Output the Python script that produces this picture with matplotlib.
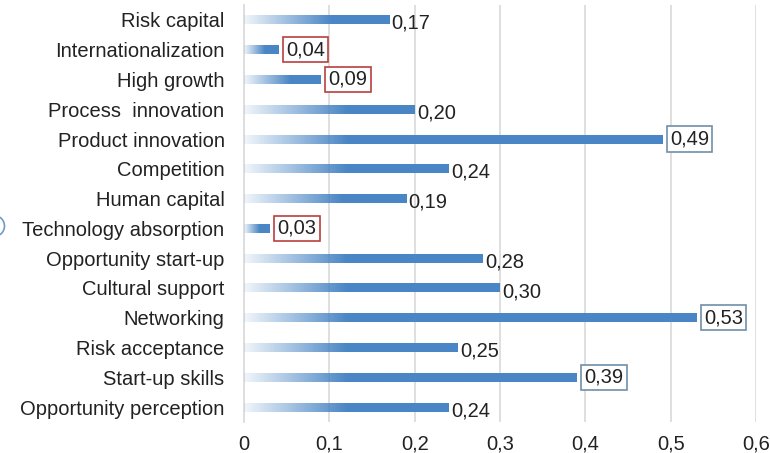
import numpy as np
import matplotlib
matplotlib.use("Agg")
import matplotlib.pyplot as plt
from matplotlib.colors import to_rgb
from matplotlib.patches import Circle

# dados (de cima para baixo)
categorias = [
    "Risk capital", "Internationalization", "High growth", "Process  innovation",
    "Product innovation", "Competition", "Human capital", "Technology absorption",
    "Opportunity start-up", "Cultural support", "Networking", "Risk acceptance",
    "Start-up skills", "Opportunity perception",
]
valores = [0.17, 0.04, 0.09, 0.20, 0.49, 0.24, 0.19, 0.03, 0.28, 0.30, 0.53, 0.25, 0.39, 0.24]
# destaque: 'r' = caixa vermelha, 'b' = caixa azul, '' = sem caixa
destaque = ['', 'r', 'r', '', 'b', '', '', 'r', '', '', 'b', '', 'b', '']
xticks = [0, 0.1, 0.2, 0.3, 0.4, 0.5, 0.6]
xticklabels = ["0", "0,1", "0,2", "0,3", "0,4", "0,5", "0,6"]

plt.rcParams['font.family'] = ['Liberation Sans', 'DejaVu Sans']

cor_barra = to_rgb("#4a86c5")
cor_box = {'r': "#b8403f", 'b': "#6f8fa8"}
fs = 14.5

fig = plt.figure(figsize=(7.7, 4.53), dpi=100)
ax = fig.add_axes([244 / 770, 1 - 422 / 453, 512 / 770, 417 / 453])

n = len(categorias)
h = 0.3
for i, (v, d) in enumerate(zip(valores, destaque)):
    # barra com gradiente branco -> azul
    npx = 200
    x = np.linspace(0, v, npx)
    g = min(0.12, v * 0.6)
    alpha = np.clip(0.08 + 0.92 * x / g, 0, 1)
    img = np.zeros((1, npx, 4))
    img[0, :, :3] = cor_barra
    img[0, :, 3] = alpha
    ax.imshow(img, extent=(0, v, i + h / 2, i - h / 2), aspect='auto',
              interpolation='bilinear', zorder=3)

    txt = f"{v:.2f}".replace(".", ",")
    if d:
        ax.text(v + 0.009, i, txt, fontsize=fs, va='center', ha='left', color='#222222',
                zorder=4, bbox=dict(boxstyle='square,pad=0.16', fc='white',
                                    ec=cor_box[d], lw=1.2))
    else:
        ax.text(v + 0.003, i + 0.12, txt, fontsize=fs, va='center', ha='left',
                color='#222222', zorder=4)

ax.set_xlim(0, 0.6)
ax.set_ylim(n - 0.5, -0.5)
ax.set_yticks(range(n))
ax.set_yticklabels(categorias, fontsize=fs, color='#222222')
ax.set_xticks(xticks)
ax.set_xticklabels(xticklabels, fontsize=fs, color='#222222')
ax.tick_params(length=0)
ax.tick_params(axis='y', pad=14)
ax.tick_params(axis='x', pad=9)

ax.grid(axis='x', color='#dcdcdc', lw=1.3, zorder=0)
ax.set_axisbelow(True)
for s in ['top', 'right', 'bottom']:
    ax.spines[s].set_visible(False)
ax.spines['left'].set_color('#dcdcdc')
ax.spines['left'].set_linewidth(1.3)

# pedaço de círculo cortado na borda esquerda
fig.patches.append(Circle((-0.06, (453 - 226) / 100), 0.105, transform=fig.dpi_scale_trans,
                          fill=False, ec='#6f9ac8', lw=1.2))

fig.savefig("out.png", dpi=100)
